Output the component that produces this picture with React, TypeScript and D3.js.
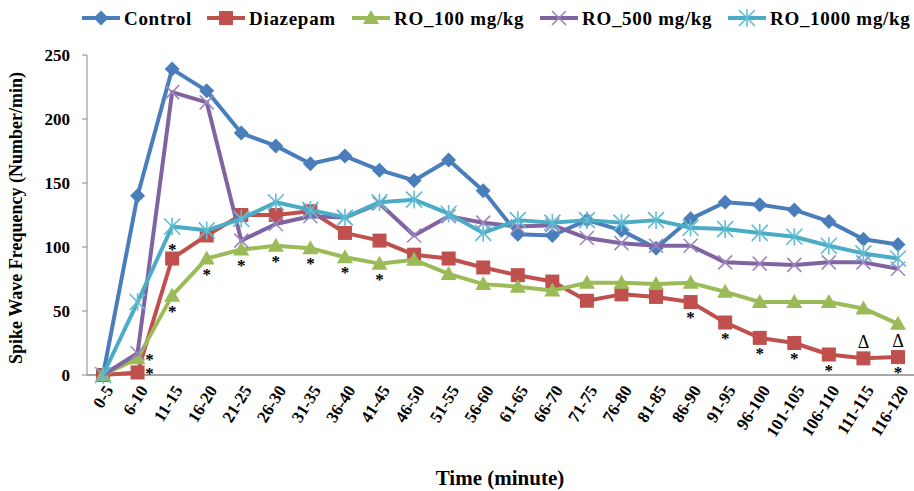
import React from "react";
import * as d3 from "d3";

const categories = ["0-5","6-10","11-15","16-20","21-25","26-30","31-35","36-40","41-45","46-50","51-55","56-60","61-65","66-70","71-75","76-80","81-85","86-90","91-95","96-100","101-105","106-110","111-115","116-120"];

const control = [0,140,239,222,189,179,165,171,160,152,168,144,110,109,121,113,99,122,135,133,129,120,106,102];
const diazepam = [0,2,91,109,125,125,128,111,105,94,91,84,78,73,58,63,61,57,41,29,25,16,13,14];
const ro100 = [0,13,62,91,98,101,99,92,87,90,79,71,69,66,72,72,71,72,65,57,57,57,52,40];
const ro500 = [0,17,221,213,105,118,124,123,134,109,124,119,116,117,107,103,101,101,88,87,86,88,88,83];
const ro1000 = [0,57,116,113,122,135,129,123,135,137,126,111,121,119,121,119,121,115,114,111,108,101,95,91];

const yTicks = [0,50,100,150,200,250];

const seriesNames = ["Control","Diazepam","RO_100 mg/kg","RO_500 mg/kg","RO_1000 mg/kg"];
const seriesValues = [control, diazepam, ro100, ro500, ro1000];
const seriesColors = ["#4a7ebb","#c0504d","#9bbb59","#8064a2","#4bacc6"];
const seriesMarkers = ["diamond","square","triangle","x","asterisk"];

// annotations: category, series index, mark, placement
const annoCats = ["6-10","6-10","11-15","11-15","16-20","21-25","26-30","31-35","36-40","41-45","86-90","91-95","96-100","101-105","106-110","116-120","111-115","116-120"];
const annoSeries = [2,1,1,2,2,2,2,2,2,2,1,1,1,1,1,1,1,1];
const annoText = ["*","*","*","*","*","*","*","*","*","*","*","*","*","*","*","*","Δ","Δ"];
const annoPlace = ["right","right","above","below","below","below","below","below","below","below","below","below","below","below","below","below","above","above"];

const W = 914, H = 491;
const FONT = "Liberation Serif, DejaVu Serif, serif";

function Marker({ type, x, y, color }: { type: string; x: number; y: number; color: string }) {
  if (type === "diamond") {
    const s = 7.5;
    return <path d={`M${x},${y - s}L${x + s},${y}L${x},${y + s}L${x - s},${y}Z`} fill={color} />;
  }
  if (type === "square") {
    const s = 7;
    return <rect x={x - s} y={y - s} width={2 * s} height={2 * s} fill={color} />;
  }
  if (type === "triangle") {
    const s = 8;
    return <path d={`M${x},${y - s}L${x + s},${y + s * 0.75}L${x - s},${y + s * 0.75}Z`} fill={color} />;
  }
  if (type === "x") {
    const s = 7;
    return <path d={`M${x - s},${y - s}L${x + s},${y + s}M${x - s},${y + s}L${x + s},${y - s}`} stroke="#9c88bd" strokeWidth={1.6} />;
  }
  const s = 8;
  return (
    <path
      d={`M${x - s},${y - s}L${x + s},${y + s}M${x - s},${y + s}L${x + s},${y - s}M${x},${y - s * 1.1}L${x},${y + s * 1.1}`}
      stroke="#5fbcd3"
      strokeWidth={1.6}
    />
  );
}

export default function App() {
  const x = d3.scalePoint<string>().domain(categories).range([103, 898]);
  const y = d3.scaleLinear().domain([0, 250]).range([375, 55]);
  const line = d3
    .line<number>()
    .x((_, i) => x(categories[i]) as number)
    .y((d) => y(d));

  const legendX = [82, 207, 352, 540, 728];

  return (
    <svg width={W} height={H} style={{ position: "absolute", left: 0, top: 0, background: "#fff", fontFamily: FONT }}>
      {/* y axis */}
      <line x1={87} x2={87} y1={y(250)} y2={y(0)} stroke="#888" strokeWidth={1} />
      {yTicks.map((t) => (
        <g key={t}>
          <line x1={82} x2={87} y1={y(t)} y2={y(t)} stroke="#888" />
          <text x={70} y={y(t)} dy="0.35em" textAnchor="end" fontSize={17} fontWeight="bold">
            {t}
          </text>
        </g>
      ))}
      <text
        transform={`translate(22,${(y(0) + y(250)) / 2 + 3}) rotate(-90)`}
        textAnchor="middle"
        fontSize={18}
        fontWeight="bold"
      >
        Spike Wave Frequency  (Number/min)
      </text>

      {/* x axis */}
      <line x1={87} x2={914} y1={y(0)} y2={y(0)} stroke="#888" strokeWidth={1.5} />
      {categories.map((c) => (
        <text
          key={c}
          transform={`translate(${(x(c) as number) + 6},${y(0) + 12}) rotate(-58)`}
          textAnchor="end"
          dy="0.35em"
          fontSize={17}
          fontWeight="bold"
        >
          {c}
        </text>
      ))}
      <text x={500} y={485} textAnchor="middle" fontSize={21} fontWeight="bold">
        Time (minute)
      </text>

      {/* series */}
      {seriesValues.map((vals, si) => (
        <g key={si}>
          <path d={line(vals) || ""} fill="none" stroke={seriesColors[si]} strokeWidth={4} strokeLinejoin="round" />
          {vals.map((v, i) => (
            <Marker key={i} type={seriesMarkers[si]} x={x(categories[i]) as number} y={y(v)} color={seriesColors[si]} />
          ))}
        </g>
      ))}

      {/* annotations */}
      {annoCats.map((c, i) => {
        const vals = seriesValues[annoSeries[i]];
        const idx = categories.indexOf(c);
        const px = x(c) as number;
        const py = y(vals[idx]);
        const isStar = annoText[i] === "*";
        let cx = px;
        let cy = py;
        if (annoPlace[i] === "right") { cx = px + 12; cy = py - 1; }
        else if (annoPlace[i] === "above") { cy = py - (isStar ? 12 : 16); }
        else { cy = py + 13; }
        return (
          <text
            key={i}
            x={cx}
            y={isStar ? cy + 8 : cy + 6}
            textAnchor="middle"
            fontSize={isStar ? 17 : 18}
            fontWeight={isStar ? "bold" : "normal"}
          >
            {annoText[i]}
          </text>
        );
      })}

      {/* legend */}
      {seriesNames.map((n, i) => (
        <g key={n}>
          <line x1={legendX[i]} x2={legendX[i] + 38} y1={18} y2={18} stroke={seriesColors[i]} strokeWidth={4} />
          <Marker type={seriesMarkers[i]} x={legendX[i] + 19} y={18} color={seriesColors[i]} />
          <text x={legendX[i] + 42} y={18} dy="0.35em" fontSize={19} fontWeight="bold" letterSpacing={0.7}>
            {n}
          </text>
        </g>
      ))}
    </svg>
  );
}
